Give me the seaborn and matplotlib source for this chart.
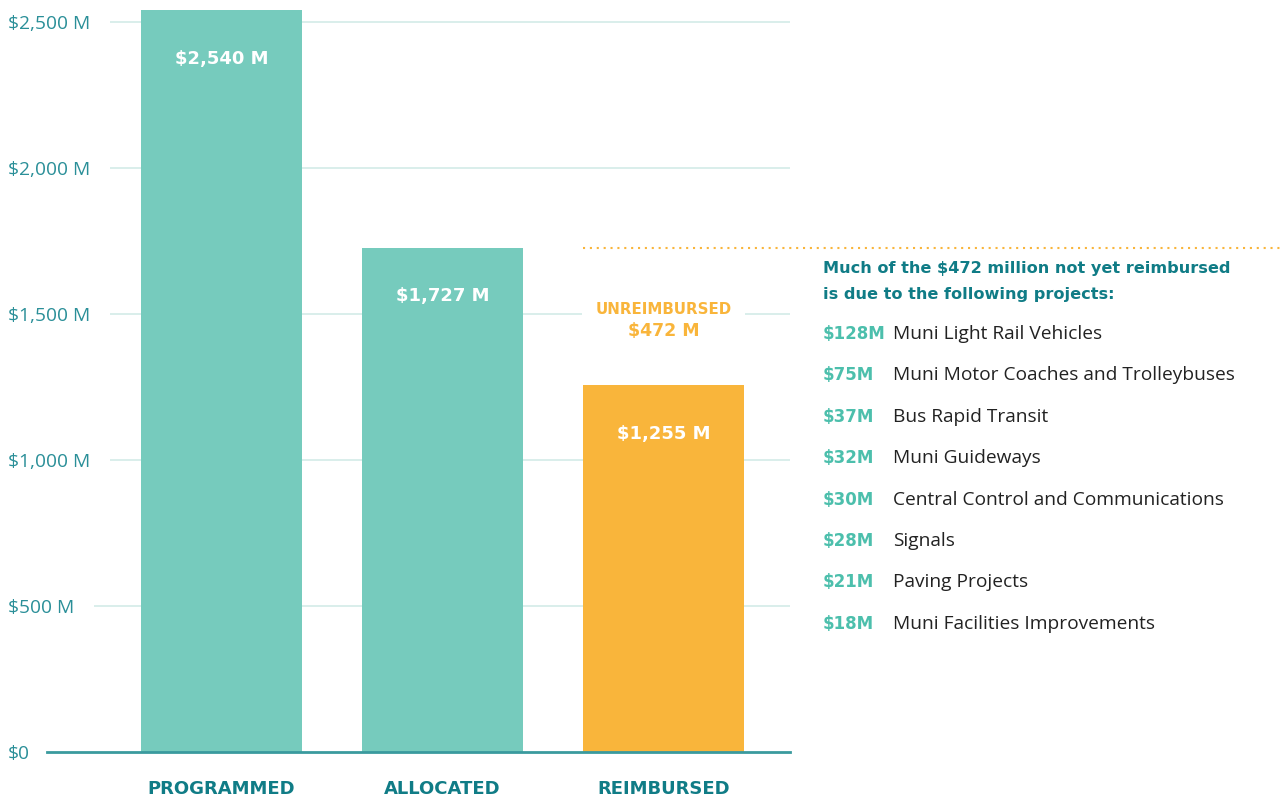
import pandas as pd
import seaborn as sns
import matplotlib.pyplot as plt

categories = ["PROGRAMMED", "ALLOCATED", "REIMBURSED"]
amounts = [2540, 1727, 1255]
bar_labels = ["$2,540 M", "$1,727 M", "$1,255 M"]
unreimbursed = 472
ytick_values = [0, 500, 1000, 1500, 2000, 2500]
ytick_labels = ["$0", "$500 M", "$1,000 M", "$1,500 M", "$2,000 M", "$2,500 M"]

project_amounts = ["$128M", "$75M", "$37M", "$32M", "$30M", "$28M", "$21M", "$18M"]
project_names = ["Muni Light Rail Vehicles", "Muni Motor Coaches and Trolleybuses",
                 "Bus Rapid Transit", "Muni Guideways", "Central Control and Communications",
                 "Signals", "Paving Projects", "Muni Facilities Improvements"]

TEAL = "#76cbbd"
ORANGE = "#f9b53b"
DARK = "#107c86"
TICK = "#2a8f98"
BOLD = "DejaVu Sans"

sns.set_style("white")
plt.rcParams["font.family"] = ["Open Sans", "DejaVu Sans"]

df = pd.DataFrame({"cat": categories, "amt": amounts})

fig = plt.figure(figsize=(12.8, 7.97), dpi=100)
ax = fig.add_axes([47 / 1280, 45 / 797, 743 / 1280, 752 / 797])

sns.barplot(data=df, x="cat", y="amt", hue="cat", palette=[TEAL, TEAL, ORANGE],
            width=0.7285, saturation=1, legend=False, linewidth=0, ax=ax, zorder=3)

ax.set_xlim(-0.79, 2.572)
ax.set_ylim(0, 2575)
ax.set_yticks(ytick_values)
ax.set_yticklabels(ytick_labels)
for lab in ax.get_yticklabels():
    lab.set_horizontalalignment("left")
    lab.set_bbox(dict(facecolor="white", edgecolor="none", pad=10))
ax.tick_params(axis="y", length=0, pad=28, labelsize=13.8, labelcolor=TICK)
ax.tick_params(axis="x", length=0, pad=20)
for lab in ax.get_xticklabels():
    lab.set_fontsize(13)
    lab.set_fontweight("bold")
    lab.set_color(DARK)
    lab.set_fontfamily(BOLD)
ax.yaxis.set_zorder(2)
ax.set_xlabel("")
ax.set_ylabel("")

for v in ytick_values[1:]:
    ax.axhline(v, color="#d3ebe7", lw=1.2, zorder=0.5)
for s in ["top", "right", "left"]:
    ax.spines[s].set_visible(False)
ax.spines["bottom"].set_color("#3a9a9e")
ax.spines["bottom"].set_linewidth(2)
ax.spines["bottom"].set_zorder(5)

for i, (v, t) in enumerate(zip(amounts, bar_labels)):
    ax.annotate(t, (i, v), xytext=(0, -35), textcoords="offset points",
                ha="center", va="center", color="white", fontsize=13,
                fontweight="bold", family=BOLD, zorder=6)

# unreimbursed gap between reimbursed and allocated
mid = amounts[2] + unreimbursed / 2
ax.text(2, mid + 25, "UNREIMBURSED", ha="center", va="center", color=ORANGE,
        fontsize=10.8, fontweight="bold", family=BOLD, zorder=6,
        bbox=dict(facecolor="white", edgecolor="none", pad=9.5))
ax.text(2, mid - 50, f"${unreimbursed} M", ha="center", va="center", color=ORANGE,
        fontsize=12.5, fontweight="bold", family=BOLD, zorder=7,
        bbox=dict(facecolor="white", edgecolor="none", pad=3))
ax.axhline(amounts[1], xmin=(583 - 47) / 743, xmax=(1280 - 47) / 743, color=ORANGE,
           lw=1.5, ls=(0, (1, 2.3)), clip_on=False, zorder=4)

fig.text(823 / 1280, 1 - 269 / 797, "Much of the $472 million not yet reimbursed",
         color=DARK, fontsize=11.65, fontweight="bold", family=BOLD, va="center")
fig.text(823 / 1280, 1 - 294 / 797, "is due to the following projects:",
         color=DARK, fontsize=11.65, fontweight="bold", family=BOLD, va="center")
for k, (a, n) in enumerate(zip(project_amounts, project_names)):
    y = 1 - (334 + k * 41.4) / 797
    fig.text(823 / 1280, y, a, color="#4cbfac", fontsize=12, fontweight="bold",
             family=BOLD, va="center")
    fig.text(893 / 1280, y, n, color="#222222", fontsize=13.8, va="center")

fig.savefig("out.png", dpi=100)
